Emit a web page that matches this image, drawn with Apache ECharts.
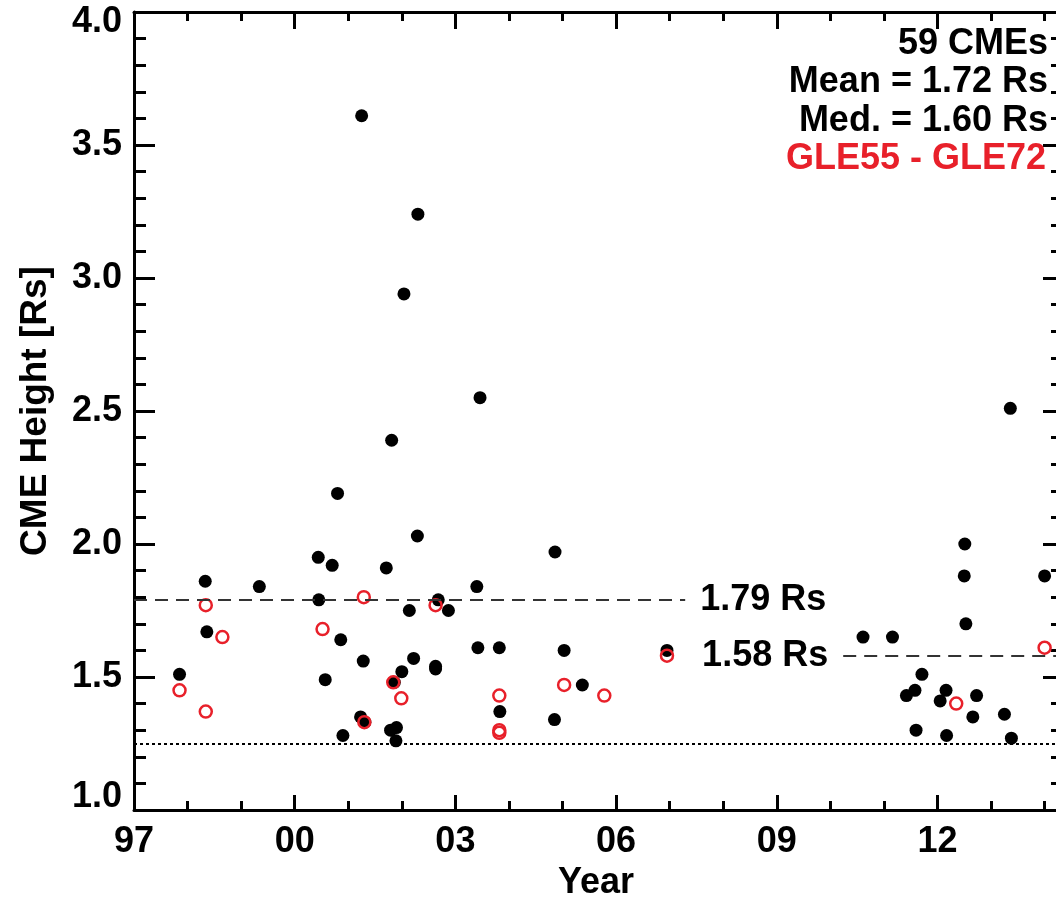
<!DOCTYPE html>
<html>
<head>
<meta charset="utf-8">
<script src="https://cdn.jsdelivr.net/npm/echarts@6/dist/echarts.min.js"></script>
<style>
html,body{margin:0;padding:0;background:#fff;}
#c{width:1056px;height:898px;}
</style>
</head>
<body>
<div id="c"></div>
<script>
// ---- data ----
const cmeYears = [
  1997.85, 1998.33, 1998.36, 1999.34, 2000.44, 2000.45, 2000.57, 2000.70, 2000.80, 2000.86,
  2000.90, 2001.23, 2001.25, 2001.28, 2001.31, 2001.71, 2001.79, 2001.81, 2001.86, 2001.89,
  2001.90, 2002.00, 2002.04, 2002.14, 2002.22, 2002.29, 2002.30, 2002.63, 2002.63, 2002.68,
  2002.87, 2003.40, 2003.42, 2003.46, 2003.82, 2003.83, 2004.85, 2004.86, 2005.03, 2005.37,
  2006.95, 2010.61, 2011.16, 2011.42, 2011.58, 2011.60, 2011.71, 2012.05, 2012.16, 2012.17,
  2012.50, 2012.51, 2012.53, 2012.66, 2012.73, 2013.25, 2013.36, 2013.38, 2014.00
];
const cmeHeights = [
  1.51, 1.86, 1.67, 1.84, 1.95, 1.79, 1.49, 1.92, 2.19, 1.64,
  1.28, 1.35, 3.61, 1.56, 1.33, 1.91, 1.30, 2.39, 1.48, 1.26,
  1.31, 1.52, 2.94, 1.75, 1.57, 2.03, 3.24, 1.54, 1.53, 1.79,
  1.75, 1.84, 1.61, 2.55, 1.61, 1.37, 1.34, 1.97, 1.60, 1.47,
  1.60, 1.65, 1.65, 1.43, 1.45, 1.30, 1.51, 1.41, 1.45, 1.28,
  1.88, 2.00, 1.70, 1.35, 1.43, 1.36, 2.51, 1.27, 1.88
];
const gleYears = [
  1997.85, 1998.34, 1998.34, 1998.65, 2000.52, 2001.29, 2001.30, 2001.84, 2001.99,
  2002.63, 2003.82, 2003.82, 2003.82, 2005.03, 2005.78, 2006.95, 2012.35, 2014.00
];
const gleHeights = [
  1.45, 1.77, 1.37, 1.65, 1.68, 1.80, 1.33, 1.48, 1.42,
  1.77, 1.43, 1.30, 1.29, 1.47, 1.43, 1.58, 1.40, 1.61
];
const statLines = ['59 CMEs', 'Mean = 1.72 Rs', 'Med. = 1.60 Rs'];
const gleLabel = 'GLE55 - GLE72';
const levelHigh = 1.79, levelHighEnd = 2007.29;     // dashed, left part
const levelLow = 1.58, levelLowStart = 2010.24;     // dashed, right part
const levelMin = 1.25;                              // dotted, full width
const xMin = 1997, xMax = 2014.25, yMin = 1, yMax = 4;

// ---- chart ----
const FONT = '"Liberation Sans", Arial, Helvetica, sans-serif';
const FS = 36;
const txt = {fontFamily: FONT, fontSize: FS, fontWeight: 'bold', color: '#000'};
const blk = {color: '#000', width: 3};

function xLab(v) {
  const k = Math.round(v);
  if (Math.abs(v - k) > 1e-6 || (k - xMin) % 3 !== 0) return '';
  return String(k % 100).padStart(2, '0');
}

const baseX = {type: 'value', min: xMin, max: xMax, splitLine: {show: false}};
const baseY = {type: 'value', min: yMin, max: yMax, interval: 0.5, splitLine: {show: false}};

const chart = echarts.init(document.getElementById('c'), null, {renderer: 'canvas'});
chart.setOption({
  animation: false,
  backgroundColor: '#fff',
  grid: {left: 134, right: -2, top: 12, bottom: 88, containLabel: false, outerBoundsMode: 'none'},
  xAxis: [
    Object.assign({}, baseX, {
      position: 'bottom', interval: 3,
      axisLine: {show: true, lineStyle: blk},
      axisTick: {show: true, inside: true, length: 15, lineStyle: blk},
      axisLabel: Object.assign({margin: 14, formatter: xLab, showMaxLabel: false}, txt),
      name: 'Year', nameLocation: 'middle', nameGap: 50,
      nameTextStyle: txt
    }),
    Object.assign({}, baseX, {
      position: 'bottom', interval: 1,
      axisLine: {show: false},
      axisTick: {show: true, inside: true, length: 9, lineStyle: blk},
      axisLabel: {show: false}
    }),
    Object.assign({}, baseX, {
      position: 'top', interval: 3,
      axisLine: {show: true, lineStyle: blk},
      axisTick: {show: true, inside: true, length: 17, lineStyle: blk},
      axisLabel: {show: false}
    }),
    Object.assign({}, baseX, {
      position: 'top', interval: 1,
      axisLine: {show: false},
      axisTick: {show: true, inside: true, length: 9, lineStyle: blk},
      axisLabel: {show: false}
    })
  ],
  yAxis: [
    Object.assign({}, baseY, {
      position: 'left',
      axisLine: {show: true, lineStyle: blk},
      axisTick: {show: true, inside: true, length: 21, lineStyle: blk},
      minorTick: {show: true, splitNumber: 5, length: 12, lineStyle: blk},
      axisLabel: Object.assign({
        margin: 12,
        formatter: function (v) {
          const s = v.toFixed(1);
          if (Math.abs(v - yMax) < 1e-6) return '{t|' + s + '}';
          if (Math.abs(v - yMin) < 1e-6) return '{b|' + s + '}';
          return s;
        },
        rich: {
          t: Object.assign({padding: [20, 0, 0, 0]}, txt),
          b: Object.assign({padding: [0, 0, 26, 0]}, txt)
        }
      }, txt),
      name: 'CME Height [Rs]', nameLocation: 'middle', nameGap: 80,
      nameTextStyle: Object.assign({}, txt, {fontSize: 37})
    }),
    Object.assign({}, baseY, {
      position: 'right',
      axisLine: {show: true, lineStyle: blk},
      axisTick: {show: true, inside: true, length: 15, lineStyle: blk},
      minorTick: {show: true, splitNumber: 5, length: 7, lineStyle: blk},
      axisLabel: {show: false}
    })
  ],
  series: [
    {
      type: 'scatter', name: 'CMEs', xAxisIndex: 0, yAxisIndex: 0,
      data: cmeYears.map((x, i) => [x, cmeHeights[i]]),
      symbol: 'circle', symbolSize: 13,
      itemStyle: {color: '#000', opacity: 1},
      z: 3,
      markLine: {
        silent: true, symbol: ['none', 'none'], animation: false,
        data: [
          [
            {coord: [xMin, levelHigh],
             lineStyle: {type: [13, 8], width: 2, color: '#333'},
             label: Object.assign({show: true, position: 'end', distance: 15, formatter: levelHigh.toFixed(2) + ' Rs'}, txt)},
            {coord: [levelHighEnd, levelHigh]}
          ],
          [
            {coord: [levelLowStart, levelLow],
             lineStyle: {type: [13, 8], width: 2, color: '#333'},
             label: Object.assign({show: true, position: 'start', distance: 15, formatter: levelLow.toFixed(2) + ' Rs'}, txt)},
            {coord: [xMax, levelLow]}
          ],
          [
            {coord: [xMin, levelMin],
             lineStyle: {type: [3, 3], width: 2, color: '#000'},
             label: {show: false}},
            {coord: [xMax, levelMin]}
          ]
        ]
      }
    },
    {
      type: 'scatter', name: 'GLE', xAxisIndex: 0, yAxisIndex: 0,
      data: gleYears.map((x, i) => [x, gleHeights[i]]),
      symbol: 'circle', symbolSize: 12,
      itemStyle: {color: 'rgba(0,0,0,0)', borderColor: '#e8202a', borderWidth: 2.5, opacity: 1},
      z: 4
    }
  ],
  graphic: statLines.map((t, i) => ({
    type: 'text', right: 8, top: 26 + i * 38.5, z: 100,
    style: {text: t, fontFamily: FONT, fontSize: FS, fontWeight: 'bold', fill: '#000', textAlign: 'right'}
  })).concat([{
    type: 'text', right: 10, top: 26 + 3 * 38.5, z: 100,
    style: {text: gleLabel, fontFamily: FONT, fontSize: FS, fontWeight: 'bold', fill: '#e8202a', textAlign: 'right'}
  }])
});
</script>
</body>
</html>
